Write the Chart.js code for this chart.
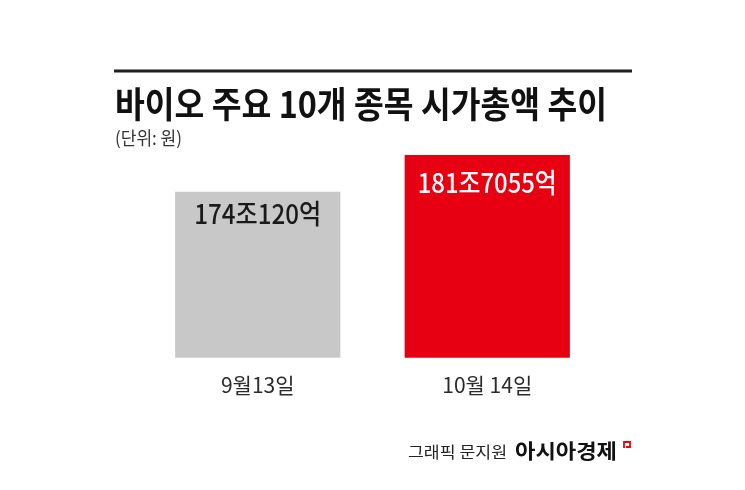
<!DOCTYPE html>
<html>
<head>
<meta charset="utf-8">
<script src="https://cdn.jsdelivr.net/npm/chart.js@4"></script>
<style>
  html, body { margin: 0; padding: 0; background: #ffffff; }
  #c { display: block; }
</style>
</head>
<body>
<canvas id="c" width="745" height="490"></canvas>
<script>
// ---- data ----
const categories = ['9월13일', '10월 14일'];
const values = [174.012, 181.7055];            // 조 원
const titleText = '바이오 주요 10개 종목 시가총액 추이';
const subtitleText = '(단위: 원)';
const creditText = '그래픽 문지원';
const brandText = '아시아경제';

// ---- styles ----
const barColors = ['#c8c8c8', '#e60012'];
const labelColors = ['#1a1a1a', '#ffffff'];
const labelOffsets = [22, 28];
const labelWidths = [127, 139];
const FONT = '"Noto Sans CJK KR", "Noto Sans", sans-serif';

function fmtValue(v) {
  const jo = Math.floor(v);
  const eok = Math.round((v - jo) * 10000);
  return jo + '조' + eok + '억';
}

function fitText(ctx, text, x, y, w, align) {
  const m = ctx.measureText(text).width;
  const s = w / m;
  ctx.save();
  ctx.translate(x, y);
  ctx.scale(s, 1);
  ctx.textAlign = align || 'left';
  ctx.fillText(text, 0, 0);
  ctx.restore();
}

const overlay = {
  id: 'overlay',
  afterDatasetsDraw(chart) {
    const ctx = chart.ctx;
    const meta = chart.getDatasetMeta(0);
    ctx.save();
    ctx.font = '500 27px ' + FONT;
    ctx.textBaseline = 'middle';
    meta.data.forEach((bar, i) => {
      ctx.fillStyle = labelColors[i];
      fitText(ctx, fmtValue(values[i]), bar.x, bar.y + labelOffsets[i], labelWidths[i], 'center');
    });
    ctx.restore();
  },
  afterDraw(chart) {
    const ctx = chart.ctx;
    ctx.save();
    // top rule
    ctx.fillStyle = '#1e1e1e';
    ctx.fillRect(114, 69.5, 518, 3);
    // title
    ctx.fillStyle = '#111111';
    ctx.textBaseline = 'middle';
    ctx.font = '700 36px ' + FONT;
    fitText(ctx, titleText, 115, 104, 492, 'left');
    // subtitle
    ctx.fillStyle = '#333333';
    ctx.font = '400 18px ' + FONT;
    fitText(ctx, subtitleText, 115, 138, 67, 'left');
    // footer credit
    ctx.fillStyle = '#222222';
    ctx.font = '400 16px ' + FONT;
    fitText(ctx, creditText, 408, 452, 99, 'left');
    ctx.fillStyle = '#111111';
    ctx.font = '700 20px ' + FONT;
    fitText(ctx, brandText, 515, 451, 102, 'left');
    // brand mark
    ctx.strokeStyle = '#e60012';
    ctx.lineWidth = 1.8;
    ctx.beginPath();
    ctx.moveTo(624, 448);
    ctx.lineTo(624, 442);
    ctx.lineTo(630, 442);
    ctx.lineTo(630, 447);
    ctx.lineTo(626, 447);
    ctx.stroke();
    ctx.restore();
  }
};

new Chart(document.getElementById('c'), {
  type: 'bar',
  data: {
    labels: categories,
    datasets: [{
      data: values,
      backgroundColor: barColors,
      borderWidth: 0,
      categoryPercentage: 1,
      barPercentage: 0.72
    }]
  },
  options: {
    responsive: false,
    animation: false,
    devicePixelRatio: 1,
    layout: { padding: { left: 143, right: 143, top: 140, bottom: 77 } },
    plugins: { legend: { display: false }, tooltip: { enabled: false } },
    scales: {
      x: {
        grid: { display: false, drawTicks: false },
        border: { display: false },
        ticks: { color: '#2a2a2a', padding: 15, font: { family: FONT, size: 21 } }
      },
      y: { display: false, min: 139.5, max: 184.8 }
    }
  },
  plugins: [overlay]
});
</script>
</body>
</html>
